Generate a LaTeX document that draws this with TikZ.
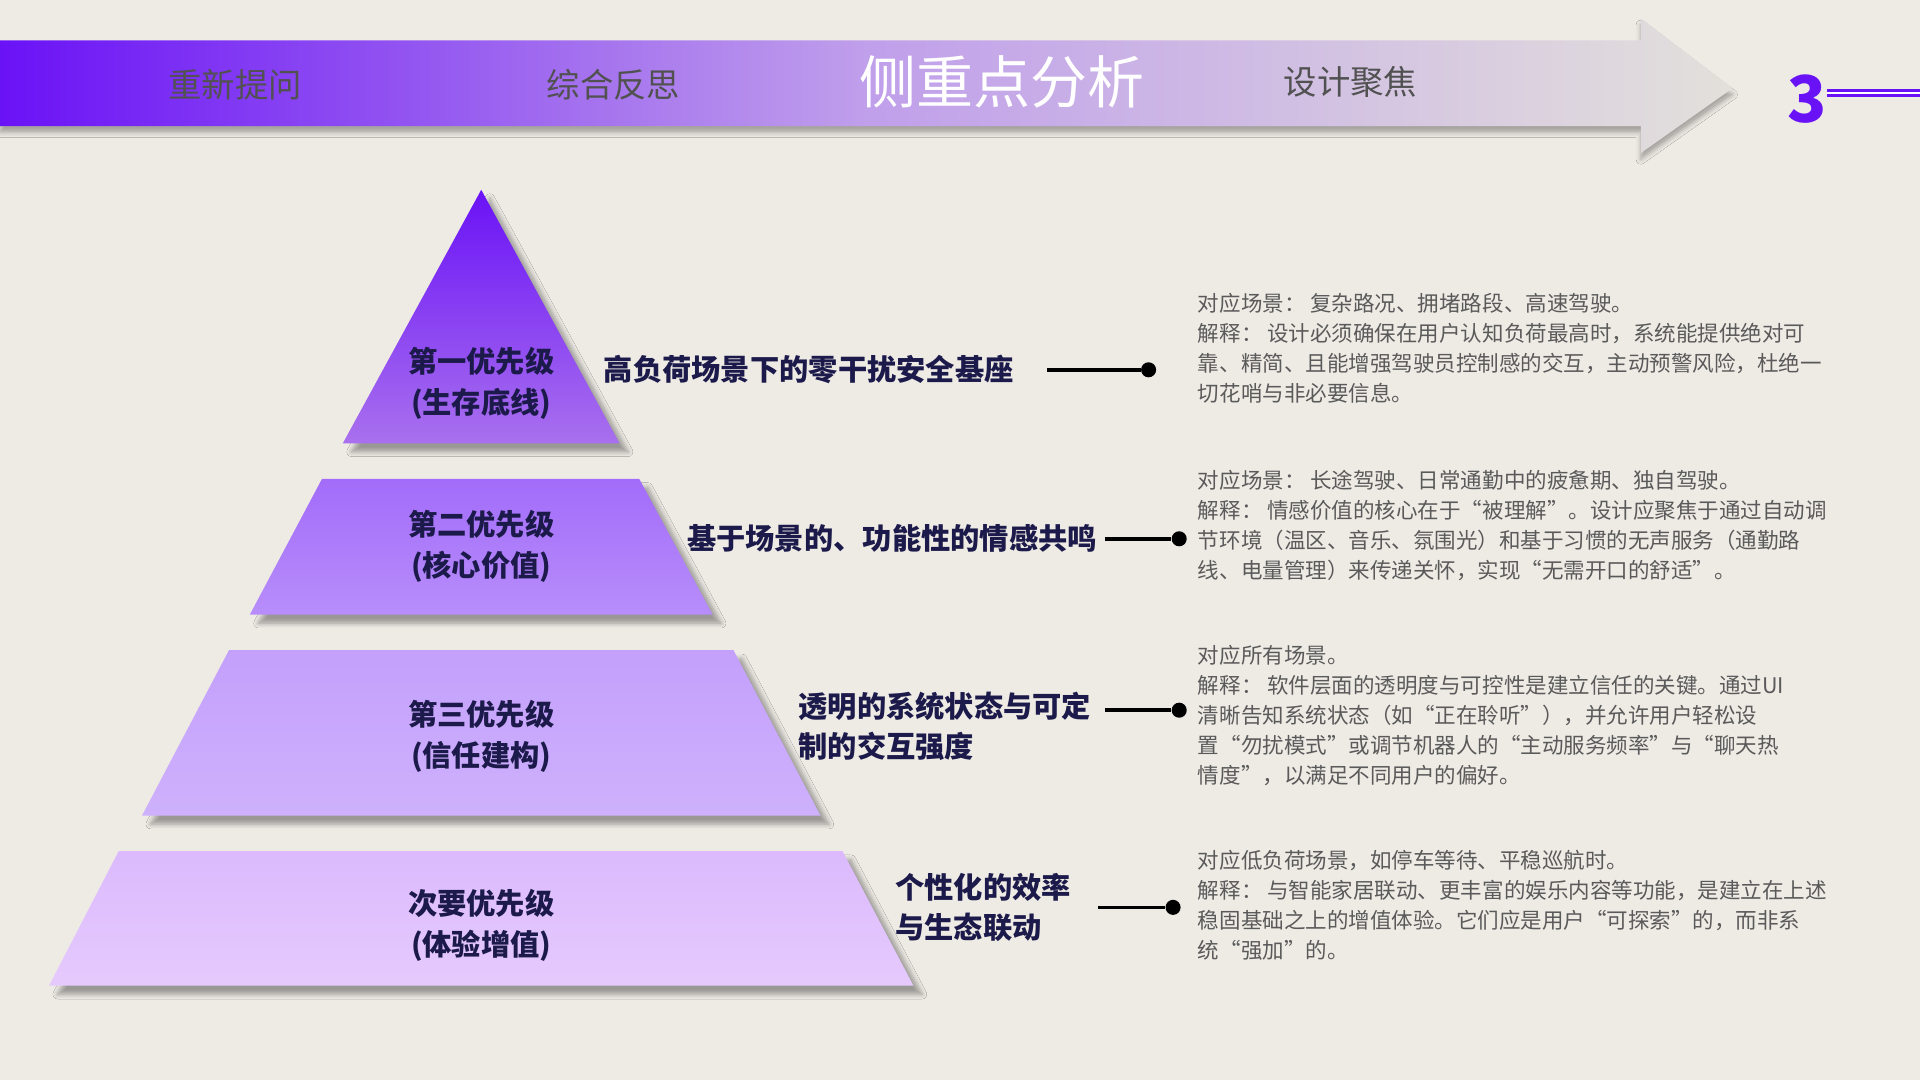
\documentclass[tikz,border=0pt]{standalone}
\usepackage{fontspec}
\setmainfont{Noto Sans CJK SC}
\newfontfamily\cjkb[BoldFont={* Bold}]{Noto Sans CJK SC}
\usetikzlibrary{shadows.blur}
\definecolor{bg}{HTML}{EEEBE5}
\definecolor{pur}{HTML}{6A12F6}
\definecolor{navy}{HTML}{1C1A4A}
\definecolor{body}{HTML}{5A5A5A}
\tikzset{
 tier/.style={blur shadow={shadow xshift=4pt,shadow yshift=-4pt,shadow blur steps=6,shadow opacity=35}},
 tlabel/.style={font=\fontsize{13.6pt}{19pt}\selectfont\bfseries, text=navy, align=center},
 head/.style={font=\fontsize{13.6pt}{18.5pt}\selectfont\bfseries, text=navy, align=left, anchor=west},
 bodytxt/.style={font=\fontsize{10pt}{13.9pt}\selectfont, text=body, align=left, anchor=north west, inner sep=0pt},
 conn/.style={line width=1.6pt, draw=black},
 dot/.style={circle, fill=black, inner sep=0pt, minimum size=7pt},
 navtxt/.style={font=\fontsize{15.5pt}{18pt}\selectfont, text=body!90!black},
}
\begin{document}
\begin{tikzpicture}[x=0.02cm,y=-0.02cm]
\fill[bg] (0,0) rectangle (1568,882);
\useasboundingbox (0,0) rectangle (1568,882);
% header arrow
\fill[black,opacity=0.12] (0,106) -- (1340,106) -- (1340,128) -- (1417,75) -- (1340,128) -- (1340,106) -- cycle;
\shade[left color=pur, right color=bg!90!gray, middle color=pur!35!bg, blur shadow={shadow xshift=0pt,shadow yshift=-3pt,shadow opacity=30}]
 (0,33) -- (1340,33) -- (1340,15) -- (1415,72) -- (1340,125) -- (1340,103) -- (0,103) -- cycle;
\node[navtxt] (n1) at (192,69) {重新提问};
\node[navtxt] (n2) at (501,69) {综合反思};
\node[font=\fontsize{26.5pt}{30pt}\selectfont, text=white] (n3) at (818,67) {侧重点分析};
\node[navtxt] (n4) at (1103,67) {设计聚焦};
\node[font=\fontsize{30pt}{32pt}\selectfont\bfseries, text=pur] (num) at (1476,81) {3};
\coordinate (dl) at (1492,76);
\coordinate (dr) at (1568,76);
\draw[pur, line width=3.5pt] (dl) -- (dr);
\draw[white, line width=0.8pt] (dl) -- (dr);
% pyramid
\shade[tier, top color=pur, bottom color=pur!55!white!90!violet] (393,155) -- (506,362) -- (280,362) -- cycle;
\shade[tier, top color=pur!62!white, bottom color=pur!48!white] (263,391) -- (522,391) -- (582,502) -- (204,502) -- cycle;
\shade[tier, top color=pur!40!white, bottom color=pur!33!white] (187,531) -- (599,531) -- (670,666) -- (116,666) -- cycle;
\shade[tier, top color=pur!25!white!95!magenta, bottom color=pur!18!white!95!magenta] (97,695) -- (688,695) -- (746,805) -- (40,805) -- cycle;
\node[tlabel] (t1) at (393,313) {第一优先级\\(生存底线)};
\node[tlabel] (t2) at (393,446) {第二优先级\\(核心价值)};
\node[tlabel] (t3) at (393,601) {第三优先级\\(信任建构)};
\node[tlabel] (t4) at (393,756) {次要优先级\\(体验增值)};
% headings
\node[head] (h1) at (487,302) {高负荷场景下的零干扰安全基座};
\node[head] (h2) at (555,440) {基于场景的、功能性的情感共鸣};
\node[head] (h3) at (646,593) {透明的系统状态与可定\\制的交互强度};
\node[head] (h4) at (725,741) {个性化的效率\\与生态联动};
% connectors
\coordinate (c1) at (855,302); \node[dot] (d1) at (938,302) {};
\coordinate (c2) at (902,440); \node[dot] (d2) at (963,440) {};
\coordinate (c3) at (902,580); \node[dot] (d3) at (963,580) {};
\coordinate (c4) at (897,741); \node[dot] (d4) at (958,741) {};
\draw[conn] (c1) -- (d1); \draw[conn] (c2) -- (d2);
\draw[conn] (c3) -- (d3); \draw[conn] (c4) -- (d4);
% body
\node[bodytxt] (b1) at (978,239) {对应场景： 复杂路况、拥堵路段、高速驾驶。\\解释： 设计必须确保在用户认知负荷最高时，系统能提供绝对可\\靠、精简、且能增强驾驶员控制感的交互，主动预警风险，杜绝一\\切花哨与非必要信息。};
\node[bodytxt] (b2) at (978,384) {对应场景： 长途驾驶、日常通勤中的疲惫期、独自驾驶。\\解释： 情感价值的核心在于“被理解”。设计应聚焦于通过自动调\\节环境（温区、音乐、氛围光）和基于习惯的无声服务（通勤路\\线、电量管理）来传递关怀，实现“无需开口的舒适”。};
\node[bodytxt] (b3) at (978,527) {对应所有场景。\\解释： 软件层面的透明度与可控性是建立信任的关键。通过UI\\清晰告知系统状态（如“正在聆听”），并允许用户轻松设\\置“勿扰模式”或调节机器人的“主动服务频率”与“聊天热\\情度”，以满足不同用户的偏好。};
\node[bodytxt] (b4) at (978,694) {对应低负荷场景，如停车等待、平稳巡航时。\\解释： 与智能家居联动、更丰富的娱乐内容等功能，是建立在上述\\稳固基础之上的增值体验。它们应是用户“可探索”的，而非系\\统“强加”的。};
\end{tikzpicture}
\end{document}
